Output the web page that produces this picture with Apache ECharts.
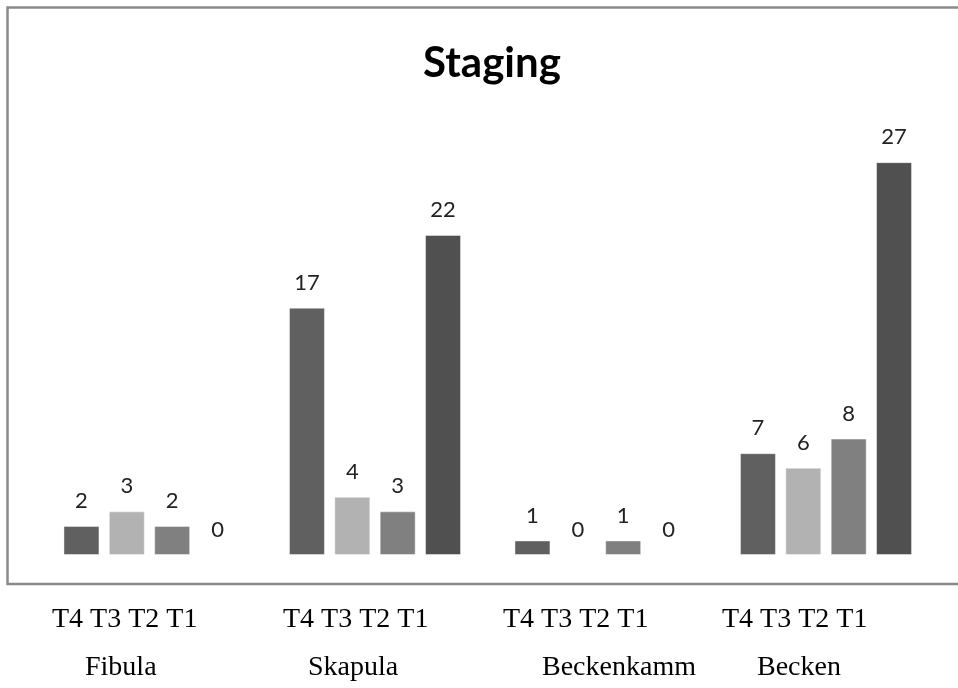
<!DOCTYPE html>
<html>
<head>
<meta charset="utf-8">
<style>
  html, body { margin: 0; padding: 0; background: #ffffff; }
  #chart { width: 958px; height: 688px; }
</style>
<script src="https://cdn.jsdelivr.net/npm/echarts@6/dist/echarts.min.js"></script>
</head>
<body>
<div id="chart"></div>
<script>
// Bone sites and tumour stages
const sites = ['Fibula', 'Skapula', 'Beckenkamm', 'Becken'];
const stages = ['T4', 'T3', 'T2', 'T1'];

// Case counts per stage, one value per site
const t4Counts = [2, 17, 1, 7];
const t3Counts = [3, 4, 0, 6];
const t2Counts = [2, 3, 1, 8];
const t1Counts = [0, 22, 0, 27];

const stageColors = ['#606060', '#b2b2b2', '#808080', '#505050'];

// Text rows printed underneath the framed chart
const stageRowLeft = [52, 283, 503, 722];
const siteRowLeft = [85, 308, 542, 757];

const chart = echarts.init(document.getElementById('chart'));

const seriesData = [t4Counts, t3Counts, t2Counts, t1Counts];
const series = stages.map((name, i) => ({
  name: name,
  type: 'bar',
  data: seriesData[i],
  barWidth: 36,
  barGap: '26%',
  itemStyle: { color: stageColors[i], borderColor: 'rgba(255,255,255,0.45)', borderWidth: 1 },
  label: {
    show: true,
    position: 'top',
    distance: 14,
    color: '#222222',
    fontFamily: 'Lato',
    fontSize: 22
  }
}));

const bottomTexts = [];
sites.forEach((site, i) => {
  bottomTexts.push({
    type: 'text',
    left: stageRowLeft[i],
    top: 606,
    style: { text: stages.join(' '), fontFamily: 'Liberation Serif', fontSize: 28, fill: '#000000' }
  });
  bottomTexts.push({
    type: 'text',
    left: siteRowLeft[i],
    top: 654,
    style: { text: site, fontFamily: 'Liberation Serif', fontSize: 28, fill: '#000000' }
  });
});

chart.setOption({
  animation: false,
  title: {
    text: 'Staging',
    left: 487,
    textAlign: 'center',
    top: 37,
    textStyle: { fontFamily: 'Lato', fontWeight: 'bold', fontSize: 42, color: '#000000' }
  },
  grid: { left: 36.75, right: 19.25, top: 118.5, bottom: 133 },
  xAxis: {
    type: 'category',
    data: sites,
    axisLine: { show: false },
    axisTick: { show: false },
    axisLabel: { show: false }
  },
  yAxis: {
    type: 'value',
    min: 0,
    max: 30,
    show: false,
    splitLine: { show: false }
  },
  series: series,
  graphic: [
    {
      type: 'polyline',
      shape: { points: [[1000, 7.5], [7.5, 7.5], [7.5, 584], [1000, 584]] },
      style: { stroke: '#8a8a8a', lineWidth: 2.5, fill: null }
    }
  ].concat(bottomTexts)
});
</script>
</body>
</html>
